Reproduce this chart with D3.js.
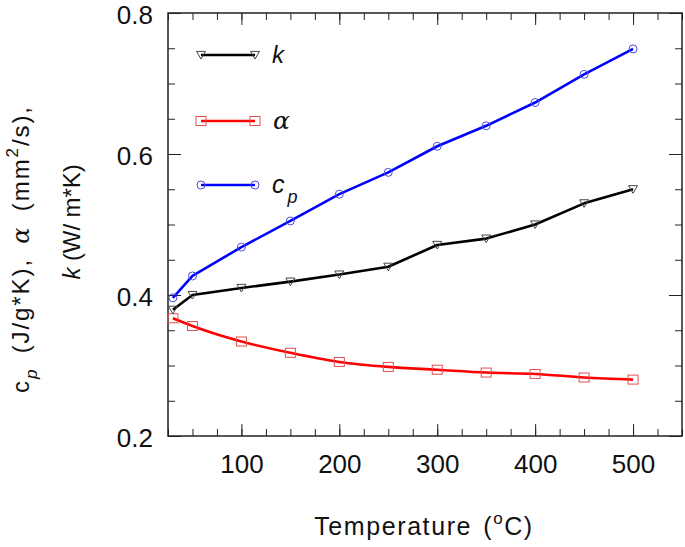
<!DOCTYPE html>
<html>
<head>
<meta charset="utf-8">
<script src="https://cdn.jsdelivr.net/npm/d3@7"></script>
<style>
  html, body { margin: 0; padding: 0; background: #fff; }
  svg { display: block; font-family: Arial, "Liberation Sans", sans-serif; }
</style>
</head>
<body>
<svg id="chart" width="685" height="547"></svg>
<script>
// ---- data ----
const temperature = [30, 50, 100, 150, 200, 250, 300, 350, 400, 450, 500];
const kValues     = [0.379, 0.400, 0.410, 0.419, 0.429, 0.440, 0.471, 0.480, 0.500, 0.530, 0.550];
const alphaValues = [0.367, 0.356, 0.334, 0.318, 0.305, 0.298, 0.294, 0.290, 0.288, 0.283, 0.280];
const cpValues    = [0.396, 0.427, 0.468, 0.505, 0.543, 0.574, 0.611, 0.640, 0.673, 0.713, 0.749];
const xMajorTicks = [100, 200, 300, 400, 500];
const yMajorTicks = [0.2, 0.4, 0.6, 0.8];

const svg = d3.select("#chart");
const L = 168, R = 682, T = 13, B = 436;
const FONT = "Arial, 'Liberation Sans', sans-serif";

const x = d3.scaleLinear().domain([25, 550]).range([L, R]);
const y = d3.scaleLinear().domain([0.2, 0.8]).range([B, T]);

const xMinor = d3.range(25, 551, 25);
const yMinor = d3.range(0.2, 0.8001, 0.05);

function styleAxis(g) {
  g.selectAll(".domain").remove();
  g.selectAll(".tick line").attr("stroke", "#222").attr("stroke-width", 1);
  g.selectAll("text").attr("font-size", 26).attr("fill", "#111").attr("font-family", FONT);
}

// minor ticks
svg.append("g").attr("transform", `translate(0,${B})`)
  .call(d3.axisBottom(x).tickValues(xMinor).tickSize(-7).tickFormat("")).call(styleAxis);
svg.append("g").attr("transform", `translate(0,${T})`)
  .call(d3.axisTop(x).tickValues(xMinor).tickSize(-7).tickFormat("")).call(styleAxis);
svg.append("g").attr("transform", `translate(${L},0)`)
  .call(d3.axisLeft(y).tickValues(yMinor).tickSize(-7).tickFormat("")).call(styleAxis);
svg.append("g").attr("transform", `translate(${R},0)`)
  .call(d3.axisRight(y).tickValues(yMinor).tickSize(-7).tickFormat("")).call(styleAxis);

// major ticks
svg.append("g").attr("transform", `translate(0,${B})`)
  .call(d3.axisBottom(x).tickValues(xMajorTicks).tickSize(-12).tickPadding(19).tickFormat(d3.format("d")))
  .call(styleAxis);
svg.append("g").attr("transform", `translate(0,${T})`)
  .call(d3.axisTop(x).tickValues(xMajorTicks).tickSize(-12).tickFormat("")).call(styleAxis);
const yAx = svg.append("g").attr("transform", `translate(${L},0)`)
  .call(d3.axisLeft(y).tickValues(yMajorTicks).tickSize(-13).tickPadding(15).tickFormat(d3.format(".1f")))
  .call(styleAxis);
yAx.selectAll("text").attr("dy", "0.4em");
svg.append("g").attr("transform", `translate(${R},0)`)
  .call(d3.axisRight(y).tickValues(yMajorTicks).tickSize(-13).tickFormat("")).call(styleAxis);

// frame
svg.append("rect").attr("x", L).attr("y", T).attr("width", R - L).attr("height", B - T)
  .attr("fill", "none").attr("stroke", "#222").attr("stroke-width", 1.5);

// series
const series = [
  { name: "k", values: kValues, color: "#000000", mcolor: "#444", marker: "tri", curve: d3.curveLinear },
  { name: "alpha", values: alphaValues, color: "#ff0000", mcolor: "#e05050", marker: "sq", curve: d3.curveMonotoneX },
  { name: "cp", values: cpValues, color: "#0000ff", mcolor: "#4a4ae0", marker: "circ", curve: d3.curveLinear }
];

function drawMarker(g, type, cx, cy, color) {
  if (type === "tri") {
    const s = 4.5;
    g.append("path")
      .attr("d", `M${cx - s},${cy - s * 0.8} L${cx + s},${cy - s * 0.8} L${cx},${cy + s * 0.9} Z`)
      .attr("fill", "none").attr("stroke", color).attr("stroke-width", 1);
  } else if (type === "sq") {
    g.append("rect").attr("x", cx - 5).attr("y", cy - 4.5).attr("width", 10).attr("height", 9)
      .attr("fill", "none").attr("stroke", color).attr("stroke-width", 1);
  } else {
    g.append("circle").attr("cx", cx).attr("cy", cy).attr("r", 4)
      .attr("fill", "none").attr("stroke", color).attr("stroke-width", 1);
  }
}

// draw alpha first, then k, then cp
[1, 0, 2].forEach(i => {
  const s = series[i];
  const pts = temperature.map((t, j) => [t, s.values[j]]);
  const line = d3.line().x(d => x(d[0])).y(d => y(d[1])).curve(s.curve);
  svg.append("path").datum(pts).attr("d", line)
    .attr("fill", "none").attr("stroke", s.color).attr("stroke-width", 2.6)
    .attr("stroke-linejoin", "round");
  const g = svg.append("g");
  pts.forEach(p => drawMarker(g, s.marker, x(p[0]), y(p[1]), s.mcolor));
});

// legend
const legendY = [55, 121, 185];
series.forEach((s, i) => {
  const ly = legendY[i];
  svg.append("line").attr("x1", 201).attr("x2", 255).attr("y1", ly).attr("y2", ly)
    .attr("stroke", s.color).attr("stroke-width", 2.6);
  const g = svg.append("g");
  drawMarker(g, s.marker, 201, ly, s.mcolor);
  drawMarker(g, s.marker, 255, ly, s.mcolor);
});
svg.append("text").attr("x", 272).attr("y", 63).attr("font-size", 24).attr("font-style", "italic")
  .attr("fill", "#111").text("k");
svg.append("text").attr("x", 273).attr("y", 129).attr("font-size", 25).attr("font-style", "italic")
  .attr("font-family", "'DejaVu Serif', serif").attr("fill", "#111").text("α");
const cpT = svg.append("text").attr("x", 272).attr("y", 193).attr("font-size", 25).attr("fill", "#111");
cpT.append("tspan").attr("font-style", "italic").text("c");
cpT.append("tspan").attr("font-style", "italic").attr("font-size", 18).attr("dy", 10).attr("dx", 3).text("p");

// fit text to a target length: share of extra as letter-spacing, rest as word-spacing
function fitLength(sel, target, letterShare) {
  const node = sel.node();
  const len = node.getComputedTextLength();
  const txt = node.textContent;
  const n = txt.length;
  const spaces = (txt.match(/ /g) || []).length;
  const extra = target - len;
  const ls = spaces > 0 ? extra * letterShare / (n - 1) : extra / (n - 1);
  sel.attr("letter-spacing", ls);
  if (spaces > 0) sel.attr("word-spacing", Math.max(0, extra * (1 - letterShare) / spaces));
}

// x-axis title
const xt = svg.append("text").attr("x", 424).attr("y", 535).attr("text-anchor", "middle")
  .attr("font-size", 25).attr("fill", "#111");
xt.append("tspan").text("Temperature (");
xt.append("tspan").attr("font-size", 17).attr("dy", -11).text("o");
xt.append("tspan").attr("dy", 11).text("C)");
fitLength(xt, 218, 0.9);

// y-axis title (two lines, rotated)
const yt1 = svg.append("text").attr("transform", "translate(29,249) rotate(-90)")
  .attr("text-anchor", "middle").attr("font-size", 24).attr("fill", "#111");
yt1.append("tspan").text("c");
yt1.append("tspan").attr("font-size", 17).attr("font-style", "italic").attr("dy", 8).text("p");
yt1.append("tspan").attr("dy", -8).text(" (J/g*K), ");
yt1.append("tspan").attr("font-style", "italic").attr("font-family", "'DejaVu Serif', serif").text("α");
yt1.append("tspan").text(" (mm");
yt1.append("tspan").attr("font-size", 17).attr("dy", -11).text("2");
yt1.append("tspan").attr("dy", 11).text("/s),");
fitLength(yt1, 286, 0.7);

const yt2 = svg.append("text").attr("transform", "translate(80,222) rotate(-90)")
  .attr("text-anchor", "middle").attr("font-size", 24).attr("fill", "#111");
yt2.append("tspan").attr("font-style", "italic").text("k");
yt2.append("tspan").text(" (W/ m*K)");
fitLength(yt2, 115, 0.8);
</script>
</body>
</html>
